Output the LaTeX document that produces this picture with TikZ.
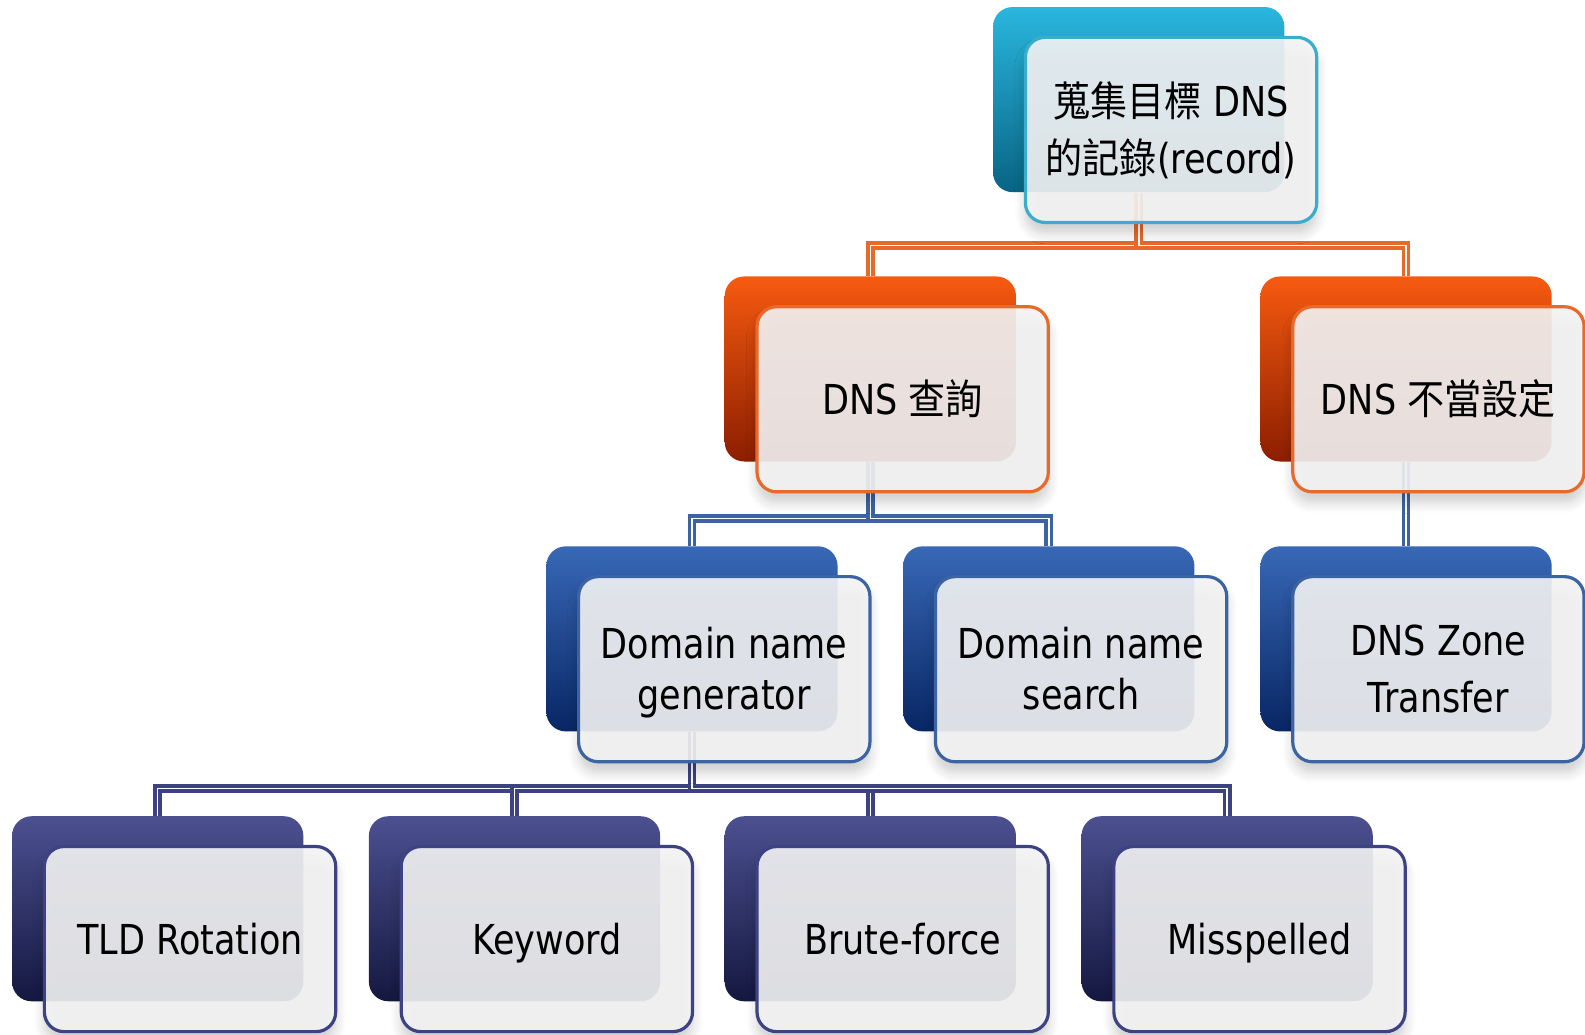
\documentclass[tikz,border=0pt]{standalone}
\usepackage{fontspec}
\setmainfont[FakeStretch=0.85]{DejaVu Sans}
\newfontfamily\cjk[FakeStretch=0.9]{Noto Sans CJK TC}
\usetikzlibrary{shadows,shadows.blur,calc}
\pgfdeclarelayer{bg}
\pgfsetlayers{bg,main}
\definecolor{tealT}{RGB}{42,182,222}
\definecolor{tealB}{RGB}{8,100,132}
\definecolor{tealL}{RGB}{58,172,204}
\definecolor{oraT}{RGB}{246,90,16}
\definecolor{oraB}{RGB}{140,30,0}
\definecolor{oraL}{RGB}{232,105,42}
\definecolor{bluT}{RGB}{56,104,182}
\definecolor{bluB}{RGB}{8,38,100}
\definecolor{bluL}{RGB}{60,100,162}
\definecolor{navT}{RGB}{76,80,144}
\definecolor{navB}{RGB}{20,24,64}
\definecolor{navL}{RGB}{60,66,130}
\definecolor{frontfill}{RGB}{244,244,245}
\tikzset{
  backbox/.style={rounded corners=5.5pt, minimum width=2.88cm, minimum height=1.83cm, inner sep=0pt, draw=none},
  tealbox/.style={backbox, top color=tealT, bottom color=tealB},
  orabox/.style={backbox, top color=oraT, bottom color=oraB},
  blubox/.style={backbox, top color=bluT, bottom color=bluB},
  navbox/.style={backbox, top color=navT, bottom color=navB},
  frontbox/.style={rounded corners=5.5pt, minimum width=2.88cm, minimum height=1.83cm, inner sep=2pt,
    line width=0.9pt, fill=frontfill, fill opacity=0.9, text opacity=1, text=black, align=center,
    font=\fontsize{11.6}{14.5}\selectfont,
    blur shadow={shadow xshift=0pt, shadow yshift=-3pt, shadow blur steps=6, shadow blur radius=3pt, shadow opacity=22}},
  oneline/.style={text height=8.4pt, text depth=0pt},
  twoline/.style={text height=22.9pt, text depth=0pt},
  twolinewide/.style={text height=24.6pt, text depth=0pt, font=\fontsize{11.6}{16.2}\selectfont},
  conn/.style={line width=1pt, double=white, double distance=0.45pt}
}
\begin{document}
\begin{tikzpicture}[x=0.01cm,y=-0.01cm]
\useasboundingbox (0,0) rectangle (1568,1023);
% level 1
\node[tealbox] (t) at (1126.5,98.5) {};
\node[frontbox, draw=tealL, twolinewide] (tf) at ($(t)+(32,30)$) {{\cjk 蒐集目標} DNS\\{\cjk 的記錄}(record)};
% level 2
\node[orabox] (q) at (861,365) {};
\node[frontbox, draw=oraL, oneline] (qf) at ($(q)+(32,30)$) {DNS {\cjk 查詢}};
\node[orabox] (m) at (1391,365) {};
\node[frontbox, draw=oraL, oneline] (mf) at ($(m)+(32,30)$) {DNS {\cjk 不當設定}};
% level 3
\node[blubox] (g) at (684.5,632) {};
\node[frontbox, draw=bluL, twoline] (gf) at ($(g)+(32,30)$) {Domain name\\generator};
\node[blubox] (s) at (1037.5,632) {};
\node[frontbox, draw=bluL, twoline] (sf) at ($(s)+(32,30)$) {Domain name\\search};
\node[blubox] (z) at (1391,632) {};
\node[frontbox, draw=bluL, twolinewide] (zf) at ($(z)+(32,30)$) {DNS Zone\\Transfer};
% level 4
\node[navbox] (r) at (156,899) {};
\node[frontbox, draw=navL, oneline] (rf) at ($(r)+(32,30)$) {TLD Rotation};
\node[navbox] (k) at (509,899) {};
\node[frontbox, draw=navL, oneline] (kf) at ($(k)+(32,30)$) {Keyword};
\node[navbox] (b) at (861,899) {};
\node[frontbox, draw=navL, oneline] (bf) at ($(b)+(32,30)$) {Brute-force};
\node[navbox] (x) at (1214,899) {};
\node[frontbox, draw=navL, oneline] (xf) at ($(x)+(32,30)$) {Misspelled};
% connectors
\coordinate (h1) at (0,243);
\coordinate (h2) at (0,513);
\coordinate (h3) at (0,780);
\begin{pgfonlayer}{bg}
\draw[conn, draw=oraL] (t.south) -- (t.south |- h1) -| (q.north);
\draw[conn, draw=oraL] (t.south) -- (t.south |- h1) -| (m.north);
\draw[conn, draw=bluL] (q.south) -- (q.south |- h2) -| (g.north);
\draw[conn, draw=bluL] (q.south) -- (q.south |- h2) -| (s.north);
\draw[conn, draw=bluL] (m.south) -- (z.north);
\draw[conn, draw=navL] (g.south) -- (g.south |- h3) -| (r.north);
\draw[conn, draw=navL] (g.south) -- (g.south |- h3) -| (k.north);
\draw[conn, draw=navL] (g.south) -- (g.south |- h3) -| (b.north);
\draw[conn, draw=navL] (g.south) -- (g.south |- h3) -| (x.north);
\end{pgfonlayer}
\end{tikzpicture}
\end{document}
